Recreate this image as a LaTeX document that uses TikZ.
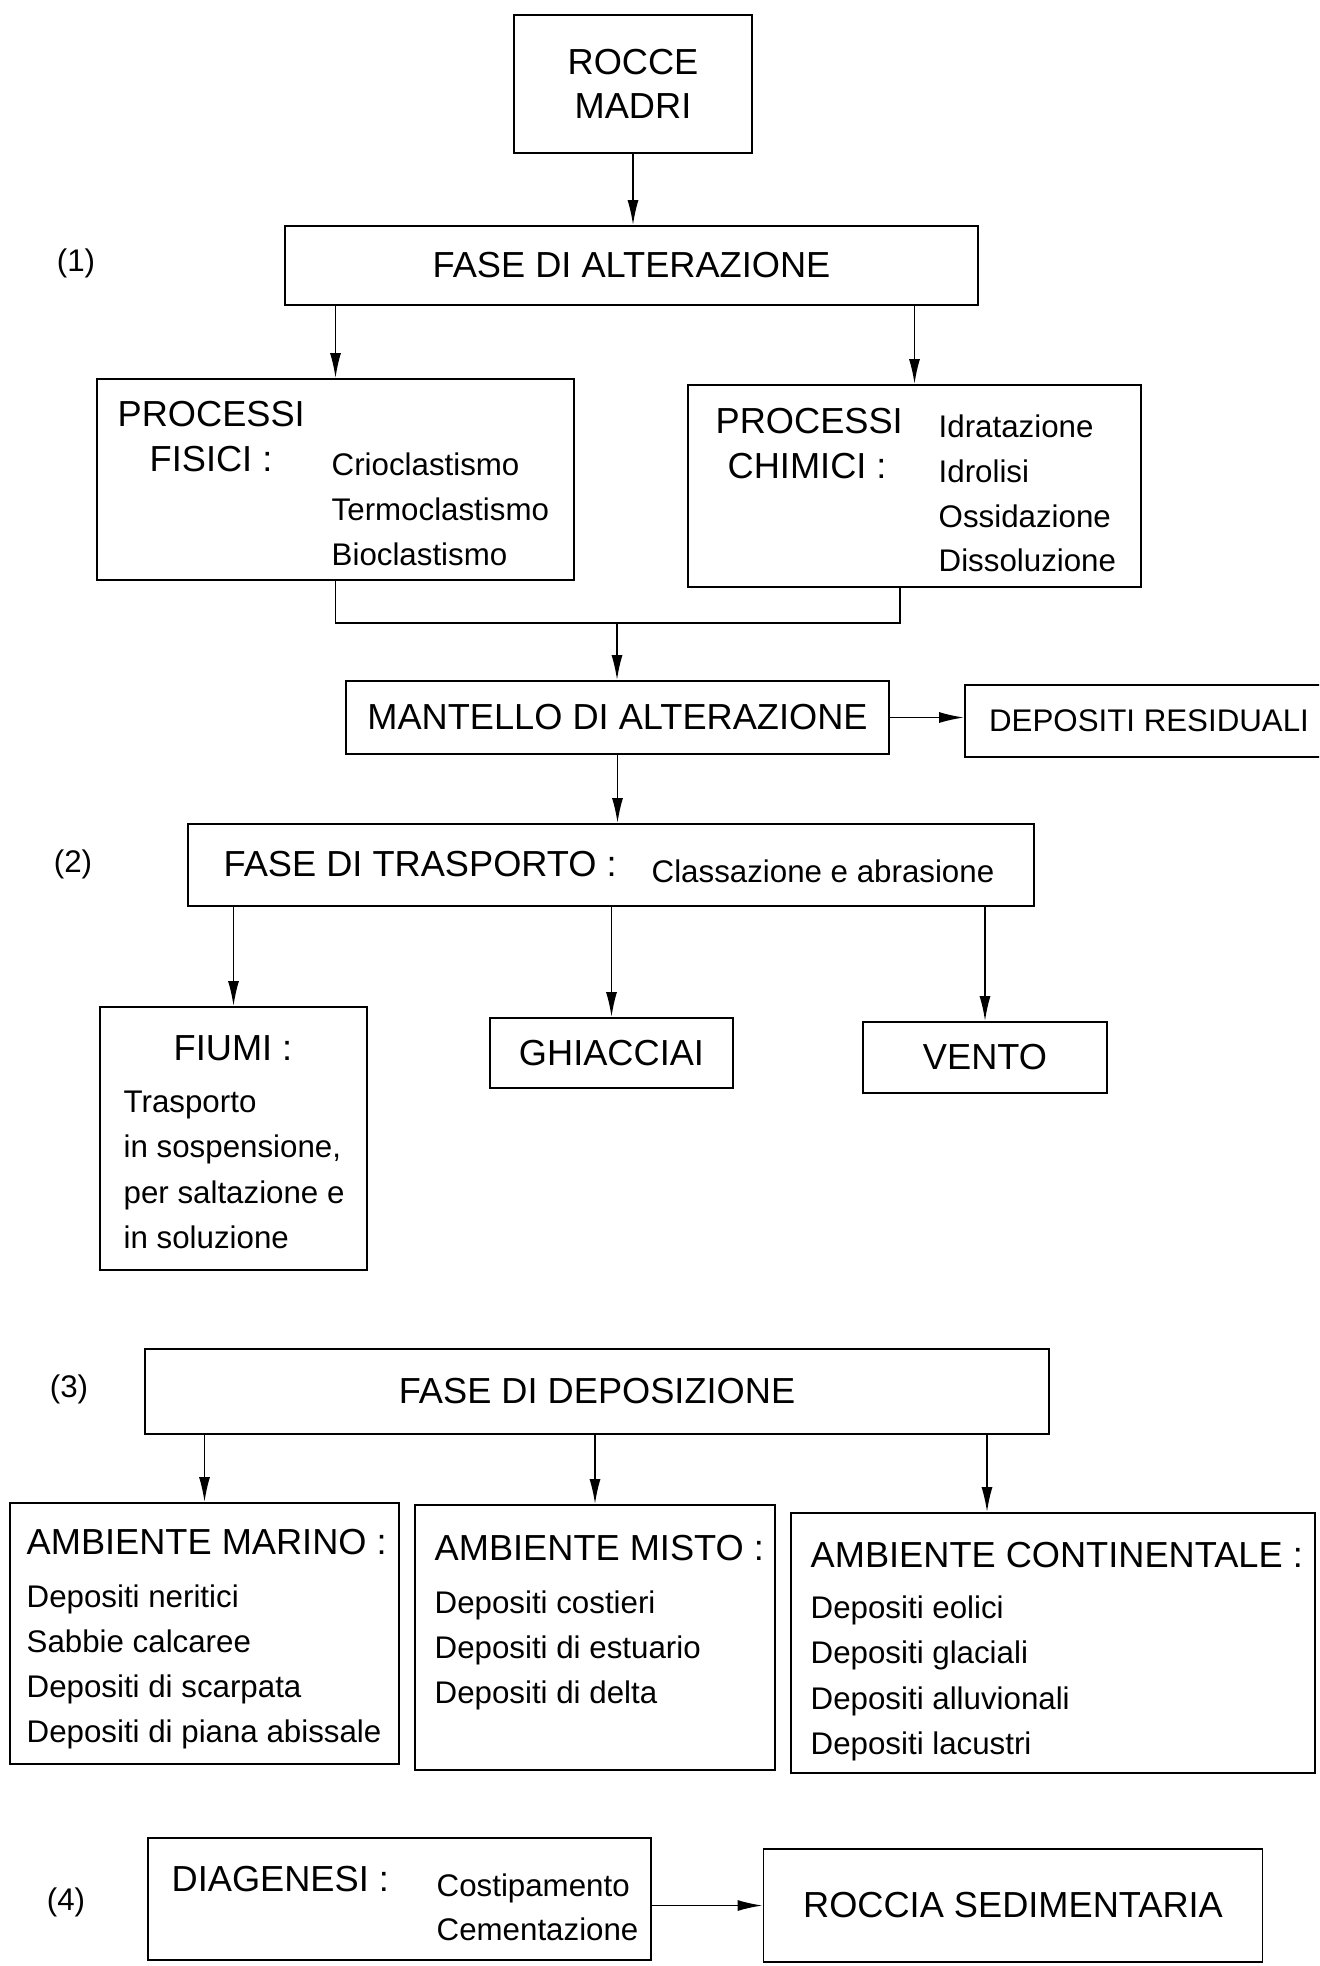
\documentclass[tikz,border=0pt]{standalone}
\usepackage{fontspec}
\setmainfont{Liberation Sans}
\usepackage{tikz}
\usetikzlibrary{arrows.meta}
\newcommand{\headfont}{\fontsize{10.3}{12.5}\selectfont}
\newcommand{\itemfont}{\fontsize{8.9}{11}\selectfont}

\begin{document}
\begin{tikzpicture}[
    box/.style={draw, line width=0.5pt, inner sep=0pt, font=\headfont},
    head/.style={font=\headfont, inner sep=0pt, text height=0.72em, text depth=0pt},
    item/.style={font=\itemfont, inner sep=0pt, text height=0.72em, text depth=0pt},
    phase/.style={font=\itemfont, inner sep=0pt},
    arr/.style={line width=0.5pt, -{Latex[length=2.5mm,width=1.1mm]}}
  ]
    \useasboundingbox (0,0) rectangle (13.19,-19.66);
    \clip (0,0) rectangle (13.19,-19.66);
    % Rocce madri
    \node[box, align=center, minimum width=2.38cm, minimum height=1.38cm] (rocce) at (6.33,-0.84) {ROCCE\\MADRI};
    % (1) Alterazione
    \node[phase] (lab1) at (0.76,-2.63) {(1)};
    \node[box, minimum width=6.93cm, minimum height=0.79cm] (alter) at (6.315,-2.655) {FASE DI ALTERAZIONE};
    \draw[arr] (rocce.south) -- (rocce.south |- alter.north);
    % Processi fisici
    \node[box, minimum width=4.77cm, minimum height=2.01cm] (fisici) at (3.355,-4.795) {};
    \node[head, anchor=west] (fisHead) at (1.17,-4.14) {PROCESSI};
    \node[head, anchor=west] (fisSub) at (1.49,-4.59) {FISICI :};
    \foreach \t [count=\i] in {Crioclastismo,Termoclastismo,Bioclastismo}
      \node[item, anchor=west] (fis-\i) at (3.31,{-4.63-0.45*(\i-1)}) {\t};
    % Processi chimici
    \node[box, minimum width=4.53cm, minimum height=2.02cm] (chimici) at (9.145,-4.86) {};
    \node[head, anchor=west] (chiHead) at (7.15,-4.21) {PROCESSI};
    \node[head, anchor=west] (chiSub) at (7.27,-4.66) {CHIMICI :};
    \foreach \t [count=\i] in {Idratazione,Idrolisi,Ossidazione,Dissoluzione}
      \node[item, anchor=west] (chi-\i) at (9.38,{-4.25-0.447*(\i-1)}) {\t};
    \draw[arr] (fisici.north |- alter.south) -- (fisici.north);
    \draw[arr] (chimici.north |- alter.south) -- (chimici.north);
    % Mantello
    \node[box, minimum width=5.43cm, minimum height=0.73cm] (mantello) at (6.175,-7.175) {MANTELLO DI ALTERAZIONE};
    \node[box, font=\itemfont, minimum width=3.68cm, minimum height=0.72cm] (residui) at (11.49,-7.21) {DEPOSITI RESIDUALI};
    \coordinate (merge) at (6.17,-6.23);
    \draw[line width=0.5pt] (fisici.south) |- (merge) -| ([xshift=-1.45mm]chimici.south);
    \draw[arr] (merge) -- (merge |- mantello.north);
    \draw[arr] (mantello.east) -- (mantello.east -| residui.west);
    % (2) Trasporto
    \node[phase] (lab2) at (0.73,-8.64) {(2)};
    \node[box, minimum width=8.46cm, minimum height=0.82cm] (trasp) at (6.11,-8.65) {};
    \node[head, anchor=west] (traHead) at (2.23,-8.64) {FASE DI TRASPORTO :};
    \node[item, anchor=west] (traItem) at (6.51,-8.70) {Classazione e abrasione};
    \draw[arr] (mantello.south) -- (mantello.south |- trasp.north);
    % Fiumi, ghiacciai, vento
    \node[box, minimum width=2.67cm, minimum height=2.63cm] (fiumi) at (2.335,-11.385) {};
    \node[head] (fiuHead) at (2.33,-10.48) {FIUMI :};
    \foreach \t [count=\i] in {Trasporto,{in sospensione,},per saltazione e,in soluzione}
      \node[item, anchor=west] (fiu-\i) at (1.23,{-11.00-0.453*(\i-1)}) {\t};
    \node[box, minimum width=2.43cm, minimum height=0.70cm] (ghiacciai) at (6.115,-10.53) {GHIACCIAI};
    \node[box, minimum width=2.44cm, minimum height=0.71cm] (vento) at (9.85,-10.575) {VENTO};
    \draw[arr] (fiumi.north |- trasp.south) -- (fiumi.north);
    \draw[arr] (ghiacciai.north |- trasp.south) -- (ghiacciai.north);
    \draw[arr] (vento.north |- trasp.south) -- (vento.north);
    % (3) Deposizione
    \node[phase] (lab3) at (0.69,-13.89) {(3)};
    \node[box, minimum width=9.04cm, minimum height=0.85cm] (depos) at (5.97,-13.915) {FASE DI DEPOSIZIONE};
    % Ambienti
    \node[box, minimum width=3.89cm, minimum height=2.61cm] (marino) at (2.045,-16.335) {};
    \node[head, anchor=west] (marHead) at (0.26,-15.42) {AMBIENTE MARINO :};
    \foreach \t [count=\i] in {Depositi neritici,Sabbie calcaree,Depositi di scarpata,Depositi di piana abissale}
      \node[item, anchor=west] (mar-\i) at (0.26,{-15.95-0.45*(\i-1)}) {\t};
    \node[box, minimum width=3.60cm, minimum height=2.65cm] (misto) at (5.95,-16.375) {};
    \node[head, anchor=west] (misHead) at (4.34,-15.48) {AMBIENTE MISTO :};
    \foreach \t [count=\i] in {Depositi costieri,Depositi di estuario,Depositi di delta}
      \node[item, anchor=west] (mis-\i) at (4.34,{-16.01-0.45*(\i-1)}) {\t};
    \node[box, minimum width=5.24cm, minimum height=2.60cm] (contin) at (10.53,-16.43) {};
    \node[head, anchor=west] (conHead) at (8.10,-15.55) {AMBIENTE CONTINENTALE :};
    \foreach \t [count=\i] in {Depositi eolici,Depositi glaciali,Depositi alluvionali,Depositi lacustri}
      \node[item, anchor=west] (con-\i) at (8.10,{-16.06-0.453*(\i-1)}) {\t};
    \draw[arr] (marino.north |- depos.south) -- (marino.north);
    \draw[arr] (misto.north |- depos.south) -- (misto.north);
    \draw[arr] ([xshift=3.9cm]depos.south) -- ([xshift=-6.6mm]contin.north);
    % (4) Diagenesi
    \node[phase] (lab4) at (0.66,-19.02) {(4)};
    \node[box, minimum width=5.03cm, minimum height=1.22cm] (diagen) at (3.995,-18.99) {};
    \node[head, anchor=west] (diaHead) at (1.71,-18.79) {DIAGENESI :};
    \node[item, anchor=west] (dia-1) at (4.36,-18.84) {Costipamento};
    \node[item, anchor=west] (dia-2) at (4.36,-19.28) {Cementazione};
    \node[box, minimum width=4.99cm, minimum height=1.13cm] (roccia) at (10.13,-19.055) {ROCCIA SEDIMENTARIA};
    \draw[arr] (roccia.west -| diagen.east) -- (roccia.west);
  \end{tikzpicture}
\end{document}
